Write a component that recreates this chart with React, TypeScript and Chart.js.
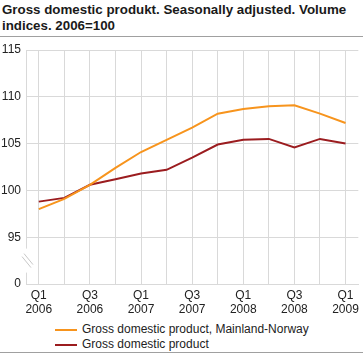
import React, { useEffect, useRef } from "react";
import { Chart, registerables } from "chart.js";

Chart.register(...registerables);

const quarters = [
  ["Q1", "2006"], ["Q2", "2006"], ["Q3", "2006"], ["Q4", "2006"],
  ["Q1", "2007"], ["Q2", "2007"], ["Q3", "2007"], ["Q4", "2007"],
  ["Q1", "2008"], ["Q2", "2008"], ["Q3", "2008"], ["Q4", "2008"],
  ["Q1", "2009"],
];
const mainlandNorway = [98.0, 99.1, 100.6, 102.4, 104.1, 105.4, 106.7, 108.2, 108.7, 109.0, 109.1, 108.2, 107.2];
const gdp = [98.8, 99.2, 100.6, 101.2, 101.8, 102.2, 103.5, 104.9, 105.4, 105.5, 104.6, 105.5, 105.0];
const seriesNames = ["Gross domestic product, Mainland-Norway", "Gross domestic product"];
const seriesColors = ["#f7941d", "#9b1c1f"];
const yTicks = [90, 95, 100, 105, 110, 115];
const title = "Gross domestic produkt. Seasonally adjusted. Volume indices. 2006=100";

const FONT = '"Liberation Sans", Arial';

const breakPlugin = {
  id: "axisBreak",
  afterDraw(chart: any) {
    const { ctx, scales } = chart;
    const y = scales.y;
    const x0 = chart.chartArea.left;
    const yMid = (y.getPixelForValue(90) + y.getPixelForValue(95)) / 2;
    ctx.save();
    ctx.fillStyle = "#ffffff";
    ctx.fillRect(x0 - 2, yMid - 12, 4, 24);
    ctx.strokeStyle = "#c8c8c8";
    ctx.lineWidth = 1;
    ctx.beginPath();
    ctx.moveTo(x0 - 4, yMid - 4);
    ctx.lineTo(x0 + 5, yMid + 7);
    ctx.moveTo(x0 - 2, yMid - 7);
    ctx.lineTo(x0 + 7, yMid + 4);
    ctx.stroke();
    ctx.restore();
  },
};

export default function App() {
  const ref = useRef<HTMLCanvasElement | null>(null);
  useEffect(() => {
    document.body.style.margin = "0";
    if (!ref.current) return;
    const chart = new Chart(ref.current, {
      type: "line",
      data: {
        labels: quarters,
        datasets: [
          {
            label: seriesNames[0],
            data: mainlandNorway,
            borderColor: seriesColors[0],
            backgroundColor: seriesColors[0],
            borderWidth: 2,
            pointRadius: 0,
            tension: 0,
          },
          {
            label: seriesNames[1],
            data: gdp,
            borderColor: seriesColors[1],
            backgroundColor: seriesColors[1],
            borderWidth: 2,
            pointRadius: 0,
            tension: 0,
          },
        ],
      },
      options: {
        animation: false,
        responsive: false,
        maintainAspectRatio: false,
        layout: { padding: { top: 13, right: 3, left: 0, bottom: 0 } },
        plugins: { legend: { display: false }, tooltip: { enabled: false } },
        scales: {
          x: {
            offset: true,
            grid: { offset: false, color: "#d9d9d9", drawTicks: false },
            border: { color: "#d9d9d9" },
            ticks: {
              autoSkip: false,
              maxRotation: 0,
              padding: 4,
              color: "#222",
              font: { family: FONT, size: 12 },
              callback: (_v: any, i: number) => (i % 2 === 0 ? quarters[i] : ""),
            },
            afterFit: (s: any) => {
              s.height = 34;
            },
          },
          y: {
            min: 90,
            max: 115,
            afterBuildTicks: (s: any) => {
              s.ticks = yTicks.map((v) => ({ value: v }));
            },
            grid: { color: "#d9d9d9", drawTicks: false },
            border: { color: "#d9d9d9" },
            ticks: {
              padding: 5,
              color: "#222",
              font: { family: FONT, size: 12 },
              callback: (v: any) => (v === 90 ? "0" : String(v)),
            },
            afterFit: (s: any) => {
              s.width = 26;
            },
          },
        },
      },
      plugins: [breakPlugin],
    } as any);
    return () => chart.destroy();
  }, []);

  return (
    <div style={{ position: "relative", width: 363, height: 358, fontFamily: FONT, background: "#fff" }}>
      <div
        style={{
          position: "absolute",
          left: 2,
          top: 2,
          width: 360,
          fontSize: "13.33px",
          fontWeight: "bold",
          lineHeight: "16px",
          color: "#1a1a1a",
        }}
      >
        {title}
      </div>
      <div style={{ position: "absolute", left: 0, top: 36, width: 363, height: 1, background: "#a0a0a0" }} />
      <canvas ref={ref} width={363} height={281} style={{ position: "absolute", left: 0, top: 37, width: 363, height: 281 }} />
      <div style={{ position: "absolute", left: 55, top: 322, fontSize: 12, color: "#222", lineHeight: "15px" }}>
        {seriesNames.map((n, i) => (
          <div key={n} style={{ display: "flex", alignItems: "center" }}>
            <span style={{ display: "inline-block", width: 22, height: 2, background: seriesColors[i], marginRight: 5 }} />
            <span>{n}</span>
          </div>
        ))}
      </div>
      <div style={{ position: "absolute", left: 0, top: 352, width: 363, height: 1, background: "#a0a0a0" }} />
    </div>
  );
}
